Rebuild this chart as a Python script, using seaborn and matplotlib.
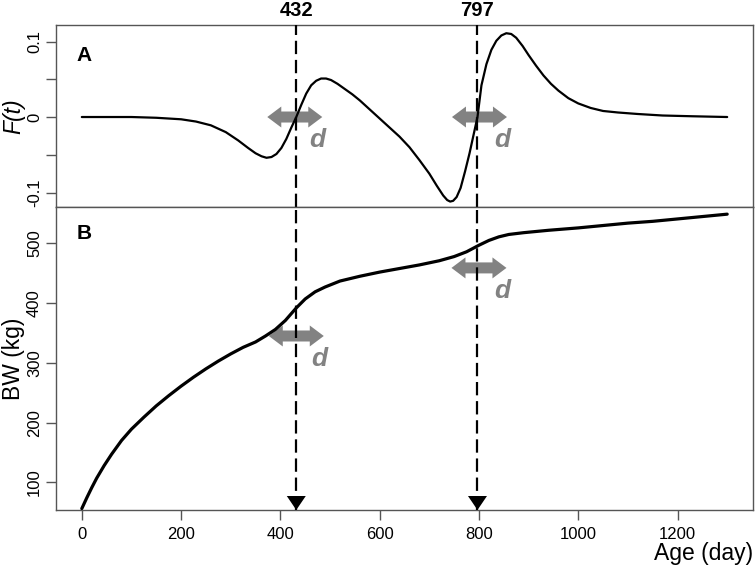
import matplotlib
matplotlib.use("Agg")
import matplotlib.pyplot as plt
import matplotlib.patches as mpatches
import matplotlib.transforms as mtransforms
import seaborn as sns

# Panel A: F(t)
F_AGE = [0, 100, 150, 200, 230, 260, 290, 315, 335, 350, 362, 372, 382, 392,
         402, 412, 422, 432, 442, 452, 462, 472, 482, 492, 502, 515, 530, 545,
         560, 575, 590, 605, 620, 640, 660, 680, 700, 715, 728, 736, 742, 748,
         755, 763, 772, 781, 789, 797, 805, 815, 825, 835, 845, 855, 865, 875,
         888, 900, 915, 930, 945, 960, 980, 1000, 1025, 1050, 1080, 1120, 1170,
         1230, 1300]
F_VAL = [0.0, 0.0, -0.001, -0.003, -0.006, -0.011, -0.020, -0.031, -0.041,
         -0.048, -0.052, -0.054, -0.053, -0.049, -0.041, -0.029, -0.014, 0.0,
         0.016, 0.031, 0.042, 0.048, 0.051, 0.051, 0.049, 0.044, 0.037, 0.030,
         0.022, 0.013, 0.004, -0.005, -0.014, -0.026, -0.040, -0.057, -0.075,
         -0.091, -0.104, -0.110, -0.112, -0.111, -0.106, -0.094, -0.072, -0.048,
         -0.024, 0.0, 0.042, 0.070, 0.089, 0.101, 0.108, 0.111, 0.110, 0.105,
         0.094, 0.082, 0.068, 0.055, 0.044, 0.035, 0.025, 0.018, 0.012, 0.008,
         0.006, 0.004, 0.002, 0.001, 0.0]

# Panel B: body weight (kg)
BW_AGE = [0, 10, 20, 30, 45, 60, 80, 100, 125, 150, 175, 200, 225, 250, 275,
          300, 325, 350, 370, 390, 410, 432, 450, 470, 490, 520, 560, 600, 640,
          680, 720, 750, 775, 800, 820, 840, 860, 890, 940, 1000, 1050, 1100,
          1150, 1200, 1250, 1300]
BW_VAL = [56, 74, 91, 107, 128, 147, 170, 189, 209, 228, 245, 261, 276, 290,
          303, 315, 326, 335, 345, 356, 371, 392, 407, 419, 427, 437, 445, 452,
          458, 464, 471, 478, 486, 497, 505, 511, 515, 518, 522, 526, 530, 534,
          537, 541, 545, 549]

BREAKS = [432, 797]
ARROW_AGE_A = [429, 801]
ARROW_F_A = [0.0, 0.0]
ARROW_AGE_B = [432, 800]
ARROW_BW_B = [345, 459]

X_LIM = (-52, 1352)
F_LIM = (-0.1192, 0.1219)
BW_LIM = (53.6, 561)
X_TICKS = [0, 200, 400, 600, 800, 1000, 1200]
F_TICKS = [-0.1, -0.05, 0, 0.05, 0.1]
F_TICKLABELS = ["-0.1", "", "0", "", "0.1"]
BW_TICKS = [100, 200, 300, 400, 500]

GREY = "#828282"
SPINE = "#555555"


def px_shape(ax, x, y, verts_px, **kw):
    # polygon with pixel-sized vertices anchored at a data point
    fig = ax.figure
    tr = fig.dpi_scale_trans + mtransforms.ScaledTranslation(x, y, ax.transData)
    verts = [(vx / fig.dpi, vy / fig.dpi) for vx, vy in verts_px]
    ax.add_patch(mpatches.Polygon(verts, closed=True, transform=tr,
                                  clip_on=False, **kw))


def double_arrow(ax, x, y):
    L, h, H, b = 27.5, 14, 10.5, 5.5
    verts = [(-L, 0), (-L + h, H), (-L + h, b), (L - h, b), (L - h, H), (L, 0),
             (L - h, -H), (L - h, -b), (-L + h, -b), (-L + h, -H)]
    px_shape(ax, x, y, verts, facecolor=GREY, edgecolor="none", zorder=3)
    ax.annotate("d", xy=(x, y), xytext=(23, -23), textcoords="offset pixels",
                ha="center", va="center", fontsize=19, fontweight="bold",
                fontstyle="italic", color=GREY, zorder=3)


sns.set_theme(style="white")
plt.rcParams["font.family"] = ["Liberation Sans", "DejaVu Sans"]
plt.rcParams["text.color"] = "black"
plt.rcParams["axes.labelcolor"] = "black"
plt.rcParams["xtick.color"] = "black"
plt.rcParams["ytick.color"] = "black"

fig = plt.figure(figsize=(7.56, 5.67), dpi=100)
ax1 = fig.add_axes([56 / 756, 1 - 207 / 567, 697 / 756, 182 / 567])
ax2 = fig.add_axes([56 / 756, 1 - 510 / 567, 697 / 756, 303 / 567])

sns.lineplot(x=F_AGE, y=F_VAL, ax=ax1, color="black", linewidth=1.6, sort=False, zorder=5)
sns.lineplot(x=BW_AGE, y=BW_VAL, ax=ax2, color="black", linewidth=2.3, sort=False, zorder=5)

for ax in (ax1, ax2):
    ax.set_xlim(*X_LIM)
    for s in ax.spines.values():
        s.set_color(SPINE)
        s.set_linewidth(1.0)
    for b in BREAKS:
        ax.axvline(b, color="black", linewidth=1.6, dashes=(6, 2.6), zorder=4)

ax1.set_ylim(*F_LIM)
ax2.set_ylim(*BW_LIM)

ax1.set_xticks([])
ax1.set_yticks(F_TICKS)
ax1.set_yticklabels(F_TICKLABELS)
ax2.set_xticks(X_TICKS)
ax2.set_yticks(BW_TICKS)

for ax in (ax1, ax2):
    ax.tick_params(axis="y", left=True, length=7, width=1, color=SPINE,
                   labelsize=12, pad=3, direction="out")
    for lab in ax.get_yticklabels():
        lab.set_rotation(90)
        lab.set_va("center")
ax2.tick_params(axis="x", bottom=True, length=7, width=1, color=SPINE,
                labelsize=12, pad=5, direction="out")

ax1.set_ylabel("F(t)", fontsize=16.5, fontstyle="italic")
ax2.set_ylabel("BW (kg)", fontsize=16.5)
ax1.yaxis.set_label_coords(-0.044, 0.5)
ax2.yaxis.set_label_coords(-0.044, 0.5)
ax2.set_xlabel("Age (day)", fontsize=16.5, loc="right", labelpad=0)

ax1.text(0.030, 0.835, "A", transform=ax1.transAxes, fontsize=15,
         fontweight="bold", va="center", ha="left")
ax2.text(0.030, 0.911, "B", transform=ax2.transAxes, fontsize=15,
         fontweight="bold", va="center", ha="left")

for b in BREAKS:
    ax1.text(b, 1.03, str(b), transform=ax1.get_xaxis_transform(),
             ha="center", va="bottom", fontsize=14.5, fontweight="bold")
    px_shape(ax2, b, BW_LIM[0], [(-9.5, 14), (9.5, 14), (0, 0)],
             facecolor="black", edgecolor="none", zorder=6)

for x, y in zip(ARROW_AGE_A, ARROW_F_A):
    double_arrow(ax1, x, y)
for x, y in zip(ARROW_AGE_B, ARROW_BW_B):
    double_arrow(ax2, x, y)

fig.savefig("out.png", dpi=100)
